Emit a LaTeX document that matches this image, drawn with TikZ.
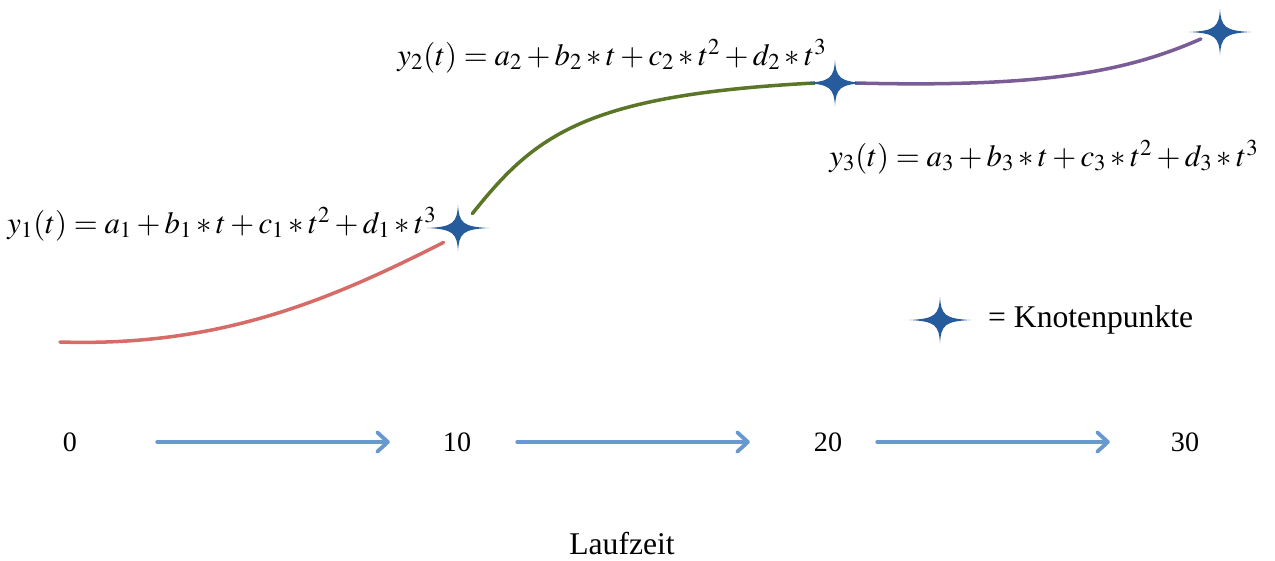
\documentclass[tikz,border=0pt]{standalone}
\usepackage{mathptmx}
\usepackage{fontspec}
\setmainfont{Liberation Serif}
\usepackage{xcolor}
\usepackage{tikz}
\usetikzlibrary{arrows.meta, calc}
\definecolor{knotblue}{RGB}{38, 92, 156}
\definecolor{splinered}{RGB}{214, 108, 104}
\definecolor{splinegreen}{RGB}{92, 118, 40}
\definecolor{splinepurple}{RGB}{122, 92, 150}
\definecolor{arrowblue}{RGB}{104, 152, 206}

\tikzset{
  knot/.style={circle, minimum size=0.8cm, inner sep=0pt},
  spline/.style={line width=2pt, line cap=round},
  eqn/.style={font=\fontsize{17.5}{20}\selectfont},
  num/.style={font=\fontsize{16}{19}\selectfont},
  txt/.style={font=\fontsize{18}{21}\selectfont},
  timearrow/.style={arrowblue, line width=2.2pt, line cap=round,
    -{Straight Barb[length=6pt, width=11pt, round]}}
}

% vierzackiger Stern auf einem Knoten
\newcommand{\knotstar}[1]{%
  \begin{scope}[shift={(#1)}]
    \fill[knotblue] (-31,0) .. controls (-5,-1.2) and (-1.2,-5) .. (0,-23)
      .. controls (1.2,-5) and (5,-1.2) .. (31,0)
      .. controls (5,1.2) and (1.2,5) .. (0,23)
      .. controls (-1.2,5) and (-5,1.2) .. (-31,0) -- cycle;
  \end{scope}}

\begin{document}
\begin{tikzpicture}[x=0.02cm, y=-0.02cm]
    \useasboundingbox (0,0) rectangle (1275,561);

    % Knotenpunkte
    \node[knot] (k1) at (458,228) {};
    \node[knot] (k2) at (835,83) {};
    \node[knot] (k3) at (1220,32) {};
    \coordinate (start) at (60,342);

    % Splines
    \draw[spline, splinered] (start) .. controls (220,347) and (330,300) .. (k1.south west);
    \draw[spline, splinegreen] (k1.north east) .. controls (535,135) and (585,95) .. (k2.west);
    \draw[spline, splinepurple] (k2.east) .. controls (1050,88) and (1130,70) .. (k3.200);

    \knotstar{k1}
    \knotstar{k2}
    \knotstar{k3}

    % Gleichungen
    \node[eqn] (eq1) at (222,224) {$y_1(t) = a_1 + b_1 * t + c_1 * t^2 + d_1 * t^3$};
    \node[eqn] (eq2) at (612,56) {$y_2(t) = a_2 + b_2 * t + c_2 * t^2 + d_2 * t^3$};
    \node[eqn] (eq3) at (1044,157) {$y_3(t) = a_3 + b_3 * t + c_3 * t^2 + d_3 * t^3$};

    % Legende
    \node[knot] (leg) at (940,320) {};
    \knotstar{leg}
    \node[txt, anchor=west] (legtext) at (982,320) {= Knotenpunkte};

    % Zeitachse
    \node[num] (t0) at (70,442) {0};
    \node[num] (t10) at (457,442) {10};
    \node[num] (t20) at (828,442) {20};
    \node[num] (t30) at (1185,442) {30};
    \draw[timearrow, shorten <=1.48cm, shorten >=0.94cm] (t0) -- (t10);
    \draw[timearrow, shorten <=0.8cm, shorten >=1.16cm] (t10) -- (t20);
    \draw[timearrow, shorten <=0.58cm, shorten >=1.1cm] (t20) -- (t30);
    \node[txt] (laufzeit) at (622,544) {Laufzeit};
\end{tikzpicture}
\end{document}
